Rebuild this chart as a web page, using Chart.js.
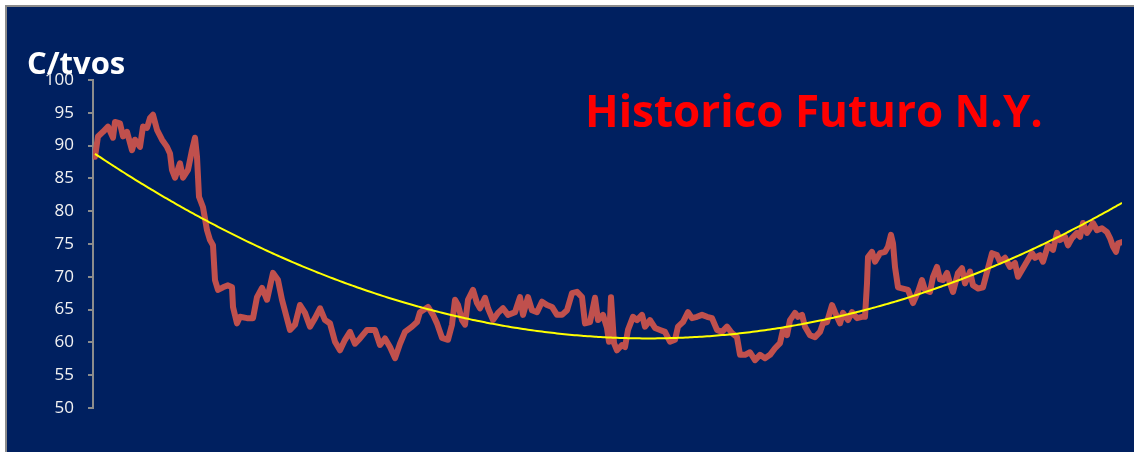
<!DOCTYPE html>
<html>
<head>
<meta charset="utf-8">
<script src="https://cdn.jsdelivr.net/npm/chart.js@4"></script>
<style>
  html, body { margin: 0; padding: 0; background: #fff; }
  #frame {
    position: absolute;
    left: 5px;
    top: 5px;
    width: 1127px;
    height: 445px;
    border-top: 2px solid #8c8c8c;
    border-left: 2px solid #8c8c8c;
    background: #002060;
  }
  #chart { display: block; }
</style>
</head>
<body>
<div id="frame"><canvas id="chart" width="1127" height="445"></canvas></div>
<script>
// DATA (trading day index, price in c/lb)

const days = [
  2, 5, 10, 15, 20, 22, 27, 30, 34, 39, 42, 47, 50, 54, 57, 60, 64, 69, 74, 77,
  79, 82, 87, 90, 95, 99, 102, 104, 106, 110, 114, 117, 120, 122, 125, 130, 135, 139, 140, 144,
  147, 154, 160, 164, 169, 174, 180, 185, 189, 197, 202, 207, 212, 217, 222, 227, 232, 237, 242, 247,
  252, 257, 262, 267, 274, 282, 287, 292, 297, 302, 307, 312, 319, 324, 327, 335, 340, 344, 349, 355,
  359, 362, 365, 369, 372, 375, 380, 384, 387, 392, 395, 400, 405, 410, 415, 422, 427, 430, 435, 439,
  444, 449, 454, 459, 464, 469, 474, 479, 484, 489, 492, 497, 502, 505, 510, 514, 516, 518, 521, 524,
  529, 532, 535, 540, 544, 549, 552, 557, 562, 567, 572, 577, 582, 585, 590, 595, 599, 604, 609, 614,
  619, 624, 629, 634, 639, 644, 647, 652, 657, 662, 667, 672, 677, 682, 687, 690, 694, 697, 702, 705,
  709, 712, 717, 722, 727, 730, 734, 739, 742, 747, 750, 755, 759, 764, 769, 772, 774, 775, 779, 782,
  787, 792, 795, 798, 800, 802, 805, 810, 815, 820, 825, 829, 832, 837, 840, 844, 847, 850, 854, 857,
  860, 865, 869, 872, 877, 880, 885, 890, 895, 899, 904, 907, 912, 917, 922, 925, 930, 935, 939, 942,
  947, 950, 955, 960, 964, 967, 972, 975, 979, 984, 987, 990, 994, 997, 1000, 1004, 1009, 1014, 1017, 1020,
  1023, 1025, 1029,
];

const prices = [
  88.3, 91.4, 92.1, 92.9, 91.2, 93.6, 93.4, 91.4, 92.1, 89.3, 90.9, 89.8, 92.9, 92.7, 94.2, 94.7, 92.4, 90.9, 89.8, 88.8,
  86.3, 85.1, 87.3, 85.1, 86.3, 89.3, 91.2, 88.3, 82.2, 80.6, 77.1, 75.6, 74.8, 69.5, 68.0, 68.4, 68.7, 68.4, 65.4, 62.9,
  63.9, 63.7, 63.7, 66.9, 68.3, 66.5, 70.6, 69.5, 66.5, 61.9, 62.7, 65.7, 64.5, 62.4, 63.7, 65.2, 63.4, 62.9, 60.1, 58.8,
  60.4, 61.6, 59.8, 60.6, 61.9, 61.9, 59.6, 60.6, 59.3, 57.6, 59.8, 61.6, 62.4, 63.1, 64.6, 65.4, 64.2, 62.9, 60.7, 60.4,
  62.7, 66.5, 65.7, 63.4, 62.7, 66.5, 68.0, 66.0, 65.2, 66.8, 65.2, 63.4, 64.5, 65.2, 64.2, 64.6, 66.9, 64.2, 66.9, 64.9,
  64.6, 66.2, 65.7, 65.4, 64.2, 64.2, 64.9, 67.5, 67.7, 66.9, 62.9, 63.1, 66.8, 63.4, 64.2, 62.2, 60.1, 66.9, 59.9, 58.8,
  59.6, 59.3, 61.9, 63.9, 63.4, 64.2, 62.4, 63.4, 62.2, 61.9, 61.6, 60.1, 60.4, 62.4, 63.1, 64.6, 63.7, 63.9, 64.2, 63.9,
  63.7, 61.9, 61.6, 62.4, 61.4, 60.8, 58.1, 58.1, 58.5, 57.3, 58.1, 57.6, 58.1, 59.1, 59.9, 61.9, 61.1, 63.4, 64.5, 63.9,
  64.2, 62.4, 61.1, 60.8, 61.6, 62.9, 63.1, 65.7, 64.6, 62.9, 64.5, 63.4, 64.6, 63.7, 63.9, 63.9, 69.0, 73.0, 73.8, 72.3,
  73.6, 73.8, 74.6, 76.4, 75.1, 71.5, 68.4, 68.2, 68.0, 66.0, 67.7, 69.5, 68.0, 67.7, 70.0, 71.5, 69.6, 69.5, 70.6, 69.0,
  67.7, 70.6, 71.3, 69.0, 70.8, 68.7, 68.2, 68.4, 71.3, 73.6, 73.3, 72.3, 72.9, 71.5, 72.1, 70.0, 71.3, 72.6, 73.6, 72.9,
  73.3, 72.3, 74.8, 74.1, 76.7, 75.6, 76.1, 74.8, 75.9, 76.7, 76.1, 78.2, 76.7, 77.4, 78.2, 77.1, 77.4, 76.8, 75.9, 74.6,
  73.8, 75.1, 75.3,
];

const yTicks = { min: 50, max: 100, step: 5 };
const yUnit = 'C/tvos';
const chartTitle = 'Historico Futuro N.Y.';

// TREND (2nd order least squares, like the spreadsheet trendline)

const quadFit = (xs, ys) => {
  const s = [0, 0, 0, 0, 0];
  const t = [0, 0, 0];
  xs.forEach((x, i) => {
    let p = 1;
    for (let k = 0; k < 5; k++) {
      s[k] += p;
      if (k < 3) t[k] += p * ys[i];
      p *= x;
    }
  });
  const m = [
    [s[0], s[1], s[2], t[0]],
    [s[1], s[2], s[3], t[1]],
    [s[2], s[3], s[4], t[2]],
  ];
  for (let c = 0; c < 3; c++) {
    for (let r = c + 1; r < 3; r++) {
      const f = m[r][c] / m[c][c];
      for (let k = c; k < 4; k++) m[r][k] -= f * m[c][k];
    }
  }
  const coef = [0, 0, 0];
  for (let r = 2; r >= 0; r--) {
    let v = m[r][3];
    for (let k = r + 1; k < 3; k++) v -= m[r][k] * coef[k];
    coef[r] = v / m[r][r];
  }
  return (x) => coef[0] + coef[1] * x + coef[2] * x * x;
};

const trend = quadFit(days, prices);

// CHART

const textPlugin = {
  id: 'texts',
  afterDraw: (chart) => {
    const ctx = chart.ctx;
    ctx.save();
    ctx.textBaseline = 'alphabetic';
    ctx.textAlign = 'left';
    ctx.fillStyle = '#ffffff';
    ctx.font = 'bold 31px "Open Sans"';
    ctx.fillText(yUnit, 20, 67);

    let size = 45;
    ctx.font = `bold ${size}px "Open Sans"`;
    size = size * 458 / ctx.measureText(chartTitle).width;
    ctx.font = `bold ${size}px "Open Sans"`;
    ctx.fillStyle = '#ff0000';
    ctx.fillText(chartTitle, 578, 120);
    ctx.restore();
  },
};

const chart = new Chart(document.querySelector('#chart'), {
  type: 'line',
  data: {
    datasets: [
      {
        data: days.map((d, i) => ({ x: d, y: prices[i] })),
        borderColor: '#c0504d',
        borderWidth: 6,
        pointRadius: 0,
        tension: 0,
        borderJoinStyle: 'round',
        borderCapStyle: 'round',
        order: 2,
      },
      {
        data: days.map((d) => ({ x: d, y: trend(d) })),
        borderColor: '#ffff00',
        borderWidth: 2,
        pointRadius: 0,
        tension: 0.4,
        order: 1,
      },
    ],
  },
  options: {
    responsive: false,
    animation: false,
    layout: {
      padding: { left: 0, right: 12, top: 73, bottom: 44 },
    },
    plugins: {
      legend: false,
      tooltip: false,
      title: false,
    },
    scales: {
      x: {
        type: 'linear',
        min: 0,
        max: 1029,
        display: false,
      },
      y: {
        min: yTicks.min,
        max: yTicks.max,
        afterFit: (scale) => {
          scale.width = 86;
        },
        border: {
          display: true,
          color: '#8c8c8c',
          width: 2,
        },
        grid: {
          drawOnChartArea: false,
          drawTicks: true,
          tickLength: 5,
          color: '#8c8c8c',
          lineWidth: 2,
        },
        ticks: {
          stepSize: yTicks.step,
          padding: 14,
          color: '#f2f2f2',
          font: { family: '"Open Sans"', size: 17 },
        },
      },
    },
  },
  plugins: [textPlugin],
});
</script>
</body>
</html>
